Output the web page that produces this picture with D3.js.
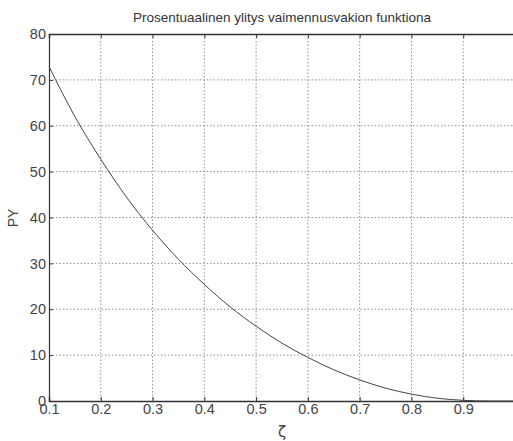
<!DOCTYPE html>
<meta charset="utf-8">
<style>
body { margin: 0; background: #fff; }
.grid line { stroke: #777; stroke-dasharray: 1.5,2; stroke-width: 0.8px; }
.axis text { font-family: "Liberation Sans", Arial, sans-serif; font-size: 14.5px; fill: #444; }
.axis path, .axis line { stroke: #333; }
.curve { fill: none; stroke: #444; stroke-width: 1px; }
</style>
<body>
<script src="https://d3js.org/d3.v7.min.js"></script>
<script>
// damping ratio (zeta) and percent overshoot
var zeta = [0.1, 0.15, 0.2, 0.25, 0.3, 0.35, 0.4, 0.45, 0.5, 0.55, 0.6, 0.65, 0.7, 0.75, 0.8, 0.85, 0.9, 0.95, 1.0];
var py   = [72.9, 62.0, 52.7, 44.4, 37.2, 30.9, 25.4, 20.5, 16.3, 12.6, 9.5, 6.8, 4.6, 2.8, 1.5, 0.6, 0.15, 0.0, 0.0];
var xTicks = [0.1, 0.2, 0.3, 0.4, 0.5, 0.6, 0.7, 0.8, 0.9];
var yTicks = [0, 10, 20, 30, 40, 50, 60, 70, 80];

var W = 513, H = 441;
var mLeft = 49, mTop = 34, mRight = 515, mBottom = 401;

var x = d3.scaleLinear().domain([0.1, 1]).range([mLeft, mRight]);
var y = d3.scaleLinear().domain([0, 80]).range([mBottom, mTop]);

var svg = d3.select("body").append("svg")
    .attr("width", W)
    .attr("height", H);

// dotted grid
var grid = svg.append("g").attr("class", "grid");
grid.selectAll(".gx").data(xTicks.slice(1)).enter().append("line")
    .attr("x1", d => x(d)).attr("x2", d => x(d))
    .attr("y1", mTop).attr("y2", mBottom);
grid.selectAll(".gy").data(yTicks.slice(1, -1)).enter().append("line")
    .attr("x1", mLeft).attr("x2", mRight)
    .attr("y1", d => y(d)).attr("y2", d => y(d));

// axes, ticks pointing inwards
svg.append("g").attr("class", "axis")
    .attr("transform", "translate(0," + mBottom + ")")
    .call(d3.axisBottom(x).tickValues(xTicks).tickSize(-4).tickPadding(3).tickFormat(d3.format(".1f")))
    .call(g => g.select(".domain").attr("stroke-width", 1.5));
svg.append("g").attr("class", "axis")
    .attr("transform", "translate(0," + mTop + ")")
    .call(d3.axisTop(x).tickValues(xTicks).tickSize(-4).tickFormat(""))
    .call(g => g.select(".domain").attr("stroke-width", 1.5));
svg.append("g").attr("class", "axis")
    .attr("transform", "translate(" + mLeft + ",0)")
    .call(d3.axisLeft(y).tickValues(yTicks).tickSize(-4).tickPadding(3))
    .call(g => g.select(".domain").attr("stroke-width", 1.2));

// the curve
var line = d3.line()
    .x((d, i) => x(zeta[i]))
    .y(d => y(d))
    .curve(d3.curveMonotoneX);
svg.append("path")
    .datum(py)
    .attr("class", "curve")
    .attr("d", line);

// title and labels
svg.append("text")
    .attr("x", 282).attr("y", 22)
    .attr("text-anchor", "middle")
    .style("font-family", "Liberation Sans, Arial, sans-serif")
    .style("font-size", "13.5px")
    .style("fill", "#333")
    .text("Prosentuaalinen ylitys vaimennusvakion funktiona");

svg.append("text")
    .attr("transform", "translate(18,218) rotate(-90)")
    .attr("text-anchor", "middle")
    .style("font-family", "Liberation Sans, Arial, sans-serif")
    .style("font-size", "14px")
    .style("fill", "#444")
    .text("PY");

svg.append("text")
    .attr("x", 282).attr("y", 437)
    .attr("text-anchor", "middle")
    .style("font-family", "DejaVu Sans, sans-serif")
    .style("font-size", "15px")
    .style("fill", "#444")
    .text("ζ");
</script>
</body>
